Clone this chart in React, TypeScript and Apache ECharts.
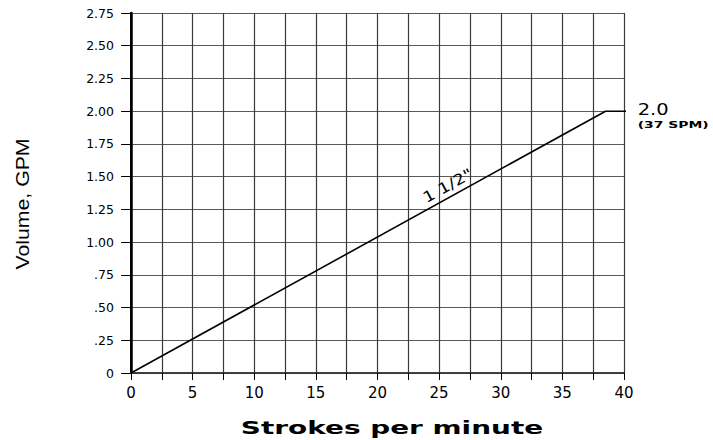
import React, { useEffect, useRef } from "react";
import * as echarts from "echarts";

const linePoints: [number, number][] = [
  [0, 0],
  [38.5, 2.0],
  [40, 2.0],
  [40.7, 2.0],
];
const xTickStep = 2.5;
const yTickStep = 0.25;
const xMax = 40;
const yMax = 2.75;
const curveLabel = '1 1/2"';
const curveLabelAt: [number, number] = [25.7, 1.43];
const endValueLabel = "2.0";
const endNoteLabel = "(37 SPM)";
const endLabelAt: [number, number] = [40.7, 2.0];
const xTitle = "Strokes per minute";
const yTitle = "Volume, GPM";

const fmtY = (v: number) => {
  if (v === 0) return "0";
  const s = v.toFixed(2);
  return v < 1 ? s.slice(1) : s;
};

export default function App() {
  const ref = useRef<HTMLDivElement>(null);
  useEffect(() => {
    document.body.style.margin = "0";
    const chart = echarts.init(ref.current!, null, { renderer: "svg" });
    const font = "DejaVu Sans";
    chart.setOption({
      animation: false,
      backgroundColor: "#fff",
      grid: { left: 131, top: 13, right: 89, bottom: 67 },
      xAxis: [
        {
          type: "value",
          min: 0,
          max: xMax,
          interval: xTickStep,
          axisLine: { show: true, lineStyle: { color: "#000", width: 1.5 } },
          axisTick: { show: true, length: 7, lineStyle: { color: "#000", width: 1 } },
          axisLabel: {
            margin: 12,
            color: "#000",
            fontFamily: font,
            fontSize: 15,
            formatter: (v: number) => (v % 5 === 0 ? String(v) : ""),
          },
          splitLine: { show: true, lineStyle: { color: "#3a3a3a", width: 1.2 } },
        },
        {
          type: "value",
          position: "top",
          min: 0,
          max: xMax,
          interval: xTickStep,
          axisLine: { show: true, lineStyle: { color: "#444", width: 1.5 } },
          axisTick: { show: false },
          axisLabel: { show: false },
          splitLine: { show: false },
        },
      ],
      yAxis: [
        {
          type: "value",
          min: 0,
          max: yMax,
          interval: yTickStep,
          axisLine: { show: true, lineStyle: { color: "#000", width: 2.5 } },
          axisTick: { show: true, length: 10, lineStyle: { color: "#000", width: 1 } },
          axisLabel: {
            margin: 17,
            color: "#000",
            fontFamily: font,
            fontSize: 12.5,
            formatter: fmtY,
          },
          splitLine: { show: true, lineStyle: { color: "#5a5a5a", width: 1.2 } },
        },
        {
          type: "value",
          position: "right",
          min: 0,
          max: yMax,
          interval: yTickStep,
          axisLine: { show: true, lineStyle: { color: "#000", width: 2 } },
          axisTick: { show: false },
          axisLabel: { show: false },
          splitLine: { show: false },
        },
      ],
      series: [
        {
          type: "line",
          data: linePoints,
          clip: false,
          showSymbol: false,
          symbol: "none",
          lineStyle: { color: "#000", width: 1.6 },
        },
      ],
    });

    const p1 = chart.convertToPixel({ gridIndex: 0 }, curveLabelAt) as number[];
    const p2 = chart.convertToPixel({ gridIndex: 0 }, endLabelAt) as number[];
    chart.setOption({
      graphic: [
        {
          type: "text",
          x: p1[0],
          y: p1[1],
          rotation: (29 * Math.PI) / 180,
          scaleX: 1.2,
          style: {
            text: curveLabel,
            fontFamily: font,
            fontSize: 15,
            fill: "#000",
            align: "center",
            verticalAlign: "middle",
          },
        },
        {
          type: "text",
          x: p2[0] + 5,
          y: p2[1] - 1,
          scaleX: 1.3,
          style: {
            text: endValueLabel,
            fontFamily: font,
            fontSize: 15,
            fill: "#000",
            align: "left",
            verticalAlign: "middle",
          },
        },
        {
          type: "text",
          x: p2[0] + 5,
          y: p2[1] + 14,
          scaleX: 1.55,
          style: {
            text: endNoteLabel,
            fontFamily: font,
            fontWeight: "bold",
            fontSize: 9,
            fill: "#000",
            align: "left",
            verticalAlign: "middle",
          },
        },
        {
          type: "text",
          x: 392,
          y: 428,
          scaleX: 1.55,
          style: {
            text: xTitle,
            fontFamily: font,
            fontWeight: "bold",
            fontSize: 18,
            fill: "#000",
            align: "center",
            verticalAlign: "middle",
          },
        },
        {
          type: "text",
          x: 22,
          y: 204,
          rotation: Math.PI / 2,
          scaleX: 1.12,
          style: {
            text: yTitle,
            fontFamily: "Liberation Sans",
            fontSize: 19,
            fill: "#000",
            align: "center",
            verticalAlign: "middle",
          },
        },
      ],
    });

    return () => chart.dispose();
  }, []);
  return (
    <div
      ref={ref}
      style={{ position: "absolute", left: 0, top: 0, width: 713, height: 440 }}
    />
  );
}
